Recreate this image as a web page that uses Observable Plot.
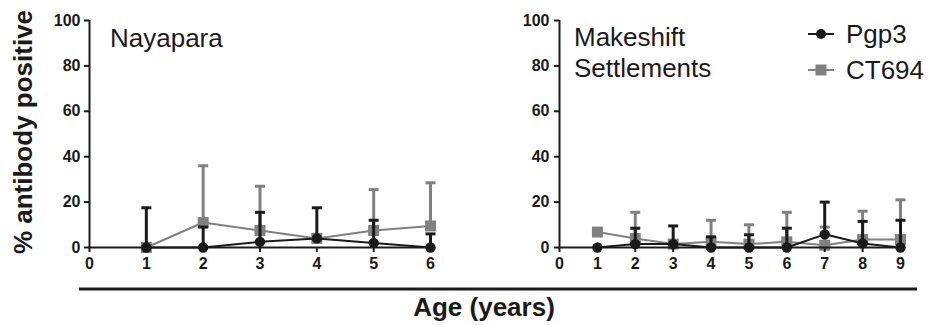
<!DOCTYPE html>
<html>
<head>
<meta charset="utf-8">
<script src="https://cdn.jsdelivr.net/npm/d3@7"></script>
<script src="https://cdn.jsdelivr.net/npm/@observablehq/plot@0.6"></script>
<style>
  html, body { margin: 0; padding: 0; background: #fff; }
  #wrap { position: relative; width: 930px; height: 325px; overflow: hidden; font-family: "Liberation Sans", Arial, sans-serif; }
  #wrap svg { position: absolute; left: 0; top: 0; }
</style>
</head>
<body>
<div id="wrap"></div>
<script>
// ---- Data ----
const seriesNames = ["Pgp3", "CT694"];
const seriesColors = ["#1a1a1a", "#808080"];

const nayAges = [1, 2, 3, 4, 5, 6];
const nayPgp3 = [0, 0, 2.5, 4, 2, 0];
const nayPgp3Upper = [17.5, 9, 15.5, 17.5, 12, 6];
const nayCT694 = [0, 11, 7.5, 4, 7.5, 9.5];
const nayCT694Upper = [null, 36, 27, null, 25.5, 28.5];

const mkAges = [1, 2, 3, 4, 5, 6, 7, 8, 9];
const mkPgp3 = [0, 1.5, 1.5, 0, 0, 0, 5.8, 1.8, 0];
const mkPgp3Upper = [null, 8.5, 9.5, 4.7, 5.6, 8.5, 20, 11.5, 12];
const mkCT694 = [6.8, 4, 1.5, 2.5, 1.5, 2.5, 1, 3.5, 3.5];
const mkCT694Upper = [null, 15.5, null, 12, 10, 15.5, 9, 16, 21];

const yTicks = [0, 20, 40, 60, 80, 100];
const yTitle = "% antibody positive";
const xTitle = "Age (years)";
const panelTitles = [["Nayapara"], ["Makeshift", "Settlements"]];

function rows(ages, vals, ups, series) {
  return ages.map((a, i) => ({age: a, value: vals[i], upper: ups[i], series}));
}

const capSymbol = {
  draw(ctx, size) {
    const w = Math.sqrt(size / Math.PI);
    ctx.moveTo(-w, 0);
    ctx.lineTo(w, 0);
  }
};

const font = '"Liberation Sans", Arial, sans-serif';

function panel({ages, pgp3, pgp3Up, ct, ctUp, xMax, marginLeft, width, tickPad}) {
  const dPgp = rows(ages, pgp3, pgp3Up, "Pgp3");
  const dCt = rows(ages, ct, ctUp, "CT694");
  const seriesMarks = (data, color, symbol, r) => {
    const withErr = data.filter(d => d.upper != null);
    return [
      Plot.ruleX(withErr, {x: "age", y1: "value", y2: "upper", stroke: color, strokeWidth: 3}),
      Plot.dot(withErr, {x: "age", y: "upper", symbol: capSymbol, r: 5, stroke: color, strokeWidth: 3, fill: "none"}),
      Plot.line(data, {x: "age", y: "value", stroke: color, strokeWidth: 2}),
      Plot.dot(data, {x: "age", y: "value", symbol, r, fill: color, stroke: "none"})
    ];
  };
  const chart = Plot.plot({
    width, height: 325,
    marginLeft, marginRight: width - (marginLeft + 341),
    marginTop: 20, marginBottom: 78,
    style: {fontFamily: font, background: "transparent", overflow: "visible"},
    x: {domain: [0, xMax]},
    y: {domain: [0, 100]},
    marks: [
      ...seriesMarks(dCt, seriesColors[1], "square", 6.2),
      ...seriesMarks(dPgp, seriesColors[0], "circle", 5.2),
      Plot.ruleY([0], {stroke: "#1a1a1a", strokeWidth: 2}),
      Plot.ruleX([0], {stroke: "#1a1a1a", strokeWidth: 2}),
      Plot.axisY({ticks: yTicks, tickFormat: "d", tickSize: 5, tickPadding: tickPad, strokeWidth: 2, label: null, color: "#1a1a1a"}),
      Plot.axisX({ticks: d3.range(0, xMax + 1), tickFormat: "d", tickSize: 5, tickPadding: 5, strokeWidth: 2, label: null, color: "#1a1a1a"})
    ]
  });
  d3.select(chart).selectAll("text")
    .style("font-size", "16px").style("font-weight", "bold").style("font-family", font);
  return chart;
}

const wrap = document.getElementById("wrap");
wrap.appendChild(panel({ages: nayAges, pgp3: nayPgp3, pgp3Up: nayPgp3Upper, ct: nayCT694, ctUp: nayCT694Upper, xMax: 6, marginLeft: 89, width: 450, tickPad: 4}));
wrap.appendChild(panel({ages: mkAges, pgp3: mkPgp3, pgp3Up: mkPgp3Upper, ct: mkCT694, ctUp: mkCT694Upper, xMax: 9, marginLeft: 559, width: 930, tickPad: 5}));

// ---- annotations overlay ----
const svg = d3.select(wrap).append("svg").attr("width", 930).attr("height", 325)
  .style("font-family", font);

svg.append("text").attr("transform", "translate(32,132) rotate(-90)")
  .attr("text-anchor", "middle").attr("font-size", 26).attr("font-weight", "bold")
  .attr("fill", "#1a1a1a").text(yTitle);

svg.append("line").attr("x1", 79).attr("x2", 917).attr("y1", 289).attr("y2", 289)
  .attr("stroke", "#1a1a1a").attr("stroke-width", 3);

svg.append("text").attr("x", 484).attr("y", 316).attr("text-anchor", "middle")
  .attr("font-size", 26).attr("font-weight", "bold").attr("fill", "#1a1a1a").text(xTitle);

svg.append("text").attr("x", 110).attr("y", 47).attr("font-size", 26).attr("fill", "#1a1a1a").text(panelTitles[0][0]);
panelTitles[1].forEach((t, i) => {
  svg.append("text").attr("x", 574).attr("y", 46 + i * 31).attr("font-size", 26).attr("fill", "#1a1a1a").text(t);
});

// legend
const legY = [34, 70];
seriesNames.forEach((name, i) => {
  const g = svg.append("g");
  g.append("line").attr("x1", 808).attr("x2", 834).attr("y1", legY[i]).attr("y2", legY[i])
    .attr("stroke", seriesColors[i]).attr("stroke-width", 2);
  if (i === 0) g.append("circle").attr("cx", 821).attr("cy", legY[i]).attr("r", 5).attr("fill", seriesColors[i]);
  else g.append("rect").attr("x", 815.5).attr("y", legY[i] - 5.5).attr("width", 11).attr("height", 11).attr("fill", seriesColors[i]);
  g.append("text").attr("x", 846).attr("y", legY[i] + 9).attr("font-size", 26).attr("fill", "#1a1a1a").text(name);
});
</script>
</body>
</html>
